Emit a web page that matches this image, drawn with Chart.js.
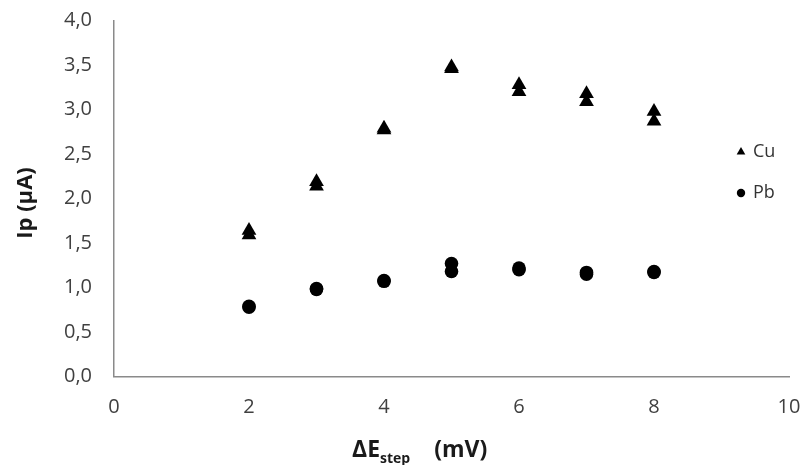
<!DOCTYPE html>
<html>
<head>
<meta charset="utf-8">
<script src="https://cdn.jsdelivr.net/npm/chart.js@4.4.1/dist/chart.umd.min.js"></script>
<style>
    body { margin: 0; background: #fff; }
    #box { width: 805px; height: 465px; }
</style>
</head>
<body>
<div id="box"><canvas id="ipGraph"></canvas></div>
<script>
// two measurements per step
const stepValues = [2, 2, 3, 3, 4, 4, 5, 5, 6, 6, 7, 7, 8, 8];
const cuValues = [1.64, 1.59, 2.19, 2.14, 2.79, 2.77, 3.48, 3.46, 3.28, 3.20, 3.18, 3.09, 2.98, 2.87];
const pbValues = [0.79, 0.78, 0.99, 0.98, 1.08, 1.07, 1.27, 1.18, 1.22, 1.20, 1.17, 1.15, 1.18, 1.17];
const seriesNames = ["Cu", "Pb"];
const xTitle = ["ΔE", "step", "(mV)"];
const yTitle = "Ip (µA)";

const FONT = "'Open Sans', sans-serif";

function toPoints(xs, ys) {
    return xs.map((x, i) => ({ x: x, y: ys[i] }));
}

const titlesAndLegend = {
    id: "titlesAndLegend",
    afterDraw(chart) {
        const ctx = chart.ctx;
        ctx.save();
        ctx.fillStyle = "#1a1a1a";

        // x title with subscript
        let x = 352;
        ctx.textAlign = "left";
        ctx.textBaseline = "alphabetic";
        ctx.font = "bold 23px " + FONT;
        ctx.fillText(xTitle[0], x, 457);
        x += ctx.measureText(xTitle[0]).width;
        ctx.font = "bold 14px " + FONT;
        ctx.fillText(xTitle[1], x, 463);
        x += ctx.measureText(xTitle[1]).width + 24;
        ctx.font = "bold 23px " + FONT;
        ctx.fillText(xTitle[2], x, 457);

        // y title
        ctx.translate(26, 203);
        ctx.rotate(-Math.PI / 2);
        ctx.textAlign = "center";
        ctx.textBaseline = "middle";
        ctx.font = "bold 22px " + FONT;
        ctx.fillText(yTitle, 0, 0);
        ctx.setTransform(1, 0, 0, 1, 0, 0);

        // legend
        chart.data.datasets.forEach((ds, i) => {
            const cy = 152 + i * 41;
            const cx = 741;
            ctx.fillStyle = "#000";
            ctx.beginPath();
            if (ds.pointStyle === "triangle") {
                const r = 5;
                ctx.moveTo(cx, cy - r);
                ctx.lineTo(cx + r * Math.sin(2 * Math.PI / 3), cy - r * Math.cos(2 * Math.PI / 3));
                ctx.lineTo(cx + r * Math.sin(4 * Math.PI / 3), cy - r * Math.cos(4 * Math.PI / 3));
                ctx.closePath();
            } else {
                ctx.arc(cx, cy, 4.2, 0, Math.PI * 2);
            }
            ctx.fill();
            ctx.fillStyle = "#333";
            ctx.font = "18px " + FONT;
            ctx.textAlign = "left";
            ctx.textBaseline = "middle";
            ctx.fillText(ds.label, 753, cy);
        });
        ctx.restore();
    }
};

const ipGraph = document.getElementById("ipGraph");

new Chart(ipGraph, {
    type: "scatter",
    data: {
        datasets: [{
            label: seriesNames[0],
            data: toPoints(stepValues, cuValues),
            pointStyle: "triangle",
            pointRadius: 8.5,
            pointHoverRadius: 8.5,
            backgroundColor: "#000",
            borderColor: "#000",
            borderWidth: 0
        }, {
            label: seriesNames[1],
            data: toPoints(stepValues, pbValues),
            pointStyle: "circle",
            pointRadius: 6.8,
            pointHoverRadius: 6.8,
            backgroundColor: "#000",
            borderColor: "#000",
            borderWidth: 0
        }]
    },
    options: {
        responsive: true,
        maintainAspectRatio: false,
        animation: false,
        layout: {
            autoPadding: false,
            padding: { top: 20.7, right: 16, bottom: 0, left: 0 }
        },
        plugins: {
            legend: { display: false },
            tooltip: { enabled: false }
        },
        scales: {
            x: {
                type: "linear",
                min: 0,
                max: 10,
                ticks: {
                    stepSize: 2,
                    color: "#404040",
                    font: { family: FONT, size: 20 },
                    padding: 19
                },
                grid: { display: false, drawTicks: false },
                border: { color: "#8a8a8a", width: 1.5 },
                afterFit(scale) {
                    scale.height = 88.5;
                    scale.paddingLeft = 0;
                    scale.paddingRight = 0;
                }
            },
            y: {
                min: 0,
                max: 4,
                ticks: {
                    stepSize: 0.5,
                    color: "#404040",
                    font: { family: FONT, size: 20 },
                    padding: 22,
                    callback: value => value.toFixed(1).replace(".", ",")
                },
                grid: { display: false, drawTicks: false },
                border: { color: "#8a8a8a", width: 1.5 },
                afterFit(scale) {
                    scale.width = 114;
                    scale.paddingTop = 0;
                    scale.paddingBottom = 0;
                }
            }
        }
    },
    plugins: [titlesAndLegend]
});
</script>
</body>
</html>
